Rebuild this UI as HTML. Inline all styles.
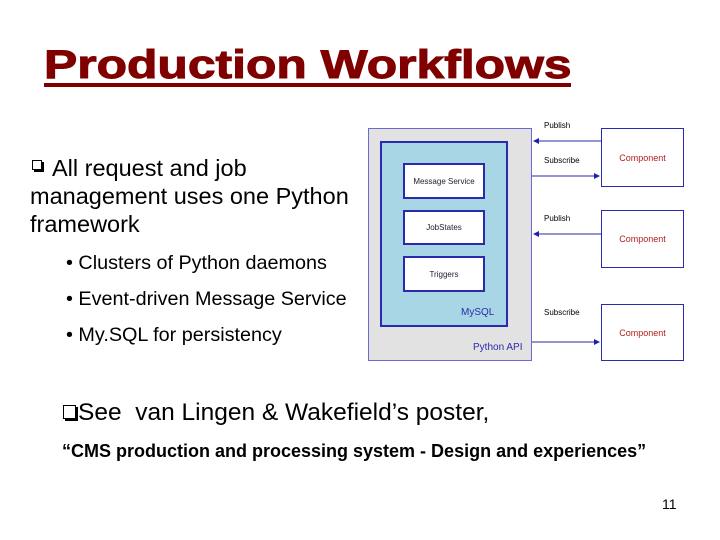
<!DOCTYPE html>
<html><head><meta charset="utf-8"><style>
body{margin:0;width:720px;height:540px;background:#fff;position:relative;overflow:hidden;font-family:"Liberation Sans",Arial,sans-serif}
.t{position:absolute;white-space:nowrap;line-height:1}
.cb{position:absolute;background:#fff;border:1px solid #000;box-shadow:2px 2px 0 #000}
.d{position:absolute;font-size:8px;line-height:1;white-space:nowrap}
.b{position:absolute;background:#fff;border:2px solid #2a2ab0;box-sizing:border-box;display:flex;align-items:center;justify-content:center;font-size:8px;color:#223}
.c{position:absolute;background:#fff;border:1.5px solid #2a2ab0;box-sizing:border-box;display:flex;align-items:center;justify-content:center;font-size:9px;color:#b02020}
</style></head><body>
<div class="t" style="left:44px;top:45px;font-size:40px;font-weight:bold;color:#800000;transform:scaleX(1.245);transform-origin:left;-webkit-text-stroke:1px #800000">Production Workflows</div>
<div style="position:absolute;left:44px;top:83px;width:527px;height:4px;background:#800000"></div>

<div class="cb" style="left:32px;top:160px;width:8px;height:8px"></div>
<div class="t" style="left:52px;top:157px;font-size:23.5px">All request and job</div>
<div class="t" style="left:30px;top:185px;font-size:23.5px">management uses one Python</div>
<div class="t" style="left:30px;top:213px;font-size:23.5px">framework</div>
<div class="t" style="left:66px;top:254px;font-size:19.8px">• Clusters of Python daemons</div>
<div class="t" style="left:66px;top:290px;font-size:19.8px">• Event-driven Message Service</div>
<div class="t" style="left:66px;top:326px;font-size:19.8px">• My.SQL for persistency</div>

<div class="cb" style="left:63px;top:405px;width:11px;height:12px"></div>
<div class="t" style="left:78px;top:401px;font-size:24.5px">See&nbsp; van Lingen &amp; Wakefield’s poster,</div>
<div class="t" style="left:62px;top:442px;font-size:18px;font-weight:bold">“CMS production and processing system - Design and experiences”</div>
<div class="t" style="left:662px;top:497px;font-size:14px">11</div>

<div style="position:absolute;left:368px;top:128px;width:164px;height:233px;background:#e2e2e2;border:1.5px solid #6a6ad0;box-sizing:border-box"></div>
<div style="position:absolute;left:380px;top:141px;width:128px;height:186px;background:#a9d6e5;border:2px solid #2a2ab0;box-sizing:border-box"></div>
<div class="b" style="left:403px;top:163px;width:82px;height:36px">Message Service</div>
<div class="b" style="left:403px;top:210px;width:82px;height:35px">JobStates</div>
<div class="b" style="left:403px;top:256px;width:82px;height:36px">Triggers</div>
<div class="d" style="left:461px;top:308px;font-size:10px;color:#2a2ab0">MySQL</div>
<div class="d" style="left:473px;top:343px;font-size:10px;color:#2a2ab0">Python API</div>

<div class="c" style="left:601px;top:128px;width:83px;height:59px">Component</div>
<div class="c" style="left:601px;top:210px;width:83px;height:58px">Component</div>
<div class="c" style="left:601px;top:304px;width:83px;height:57px">Component</div>

<svg style="position:absolute;left:0;top:0" width="720" height="540">
<g stroke="#7070c0" stroke-width="1.5" fill="none">
<line x1="601" y1="141" x2="538" y2="141"/>
<line x1="532" y1="176" x2="595" y2="176"/>
<line x1="601" y1="234" x2="538" y2="234"/>
<line x1="532" y1="342" x2="595" y2="342"/>
</g>
<g fill="#2020b0">
<polygon points="533,141 539,138 539,144"/>
<polygon points="600,176 594,173 594,179"/>
<polygon points="533,234 539,231 539,237"/>
<polygon points="600,342 594,339 594,345"/>
</g>
</svg>
<div class="d" style="left:544px;top:122px">Publish</div>
<div class="d" style="left:544px;top:157px">Subscribe</div>
<div class="d" style="left:544px;top:215px">Publish</div>
<div class="d" style="left:544px;top:309px">Subscribe</div>
</body></html>
